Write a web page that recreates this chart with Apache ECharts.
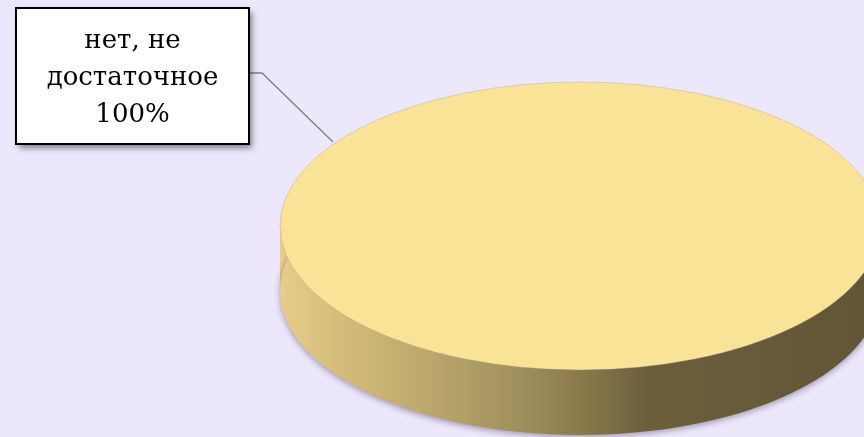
<!DOCTYPE html>
<html>
<head>
<meta charset="utf-8">
<script src="https://cdn.jsdelivr.net/npm/echarts@6/dist/echarts.min.js"></script>
<style>
html,body{margin:0;padding:0;background:#EDE7FB;}
#chart{width:864px;height:437px;}
</style>
</head>
<body>
<div id="chart"></div>
<script>
// ---- data ----
var categories = ['нет, не достаточное'];
var labelLines = [['нет, не', 'достаточное']];
var values = [100];

// ---- layout (not data) ----
var PIE = { cx: 580, cy: 226, rx: 300, ry: 144, depth: 65 };
var BOX = { x: 16, y: 8, w: 233, h: 136 };
var LEADER = [[249, 73], [262, 73], [333, 142]];

var total = values.reduce(function (a, b) { return a + b; }, 0);

var chart = echarts.init(document.getElementById('chart'));

function sideFill() {
  return new echarts.graphic.LinearGradient(0, 0, 1, 0, [
    { offset: 0, color: '#E6CE88' },
    { offset: 0.1, color: '#D4BD7A' },
    { offset: 0.25, color: '#BBA76C' },
    { offset: 0.4, color: '#A0905D' },
    { offset: 0.52, color: '#857648' },
    { offset: 0.61, color: '#6C5F3C' },
    { offset: 1, color: '#615534' }
  ], false);
}

chart.setOption({
  backgroundColor: '#EDE7FB',
  animation: false,
  series: [{
    type: 'custom',
    coordinateSystem: 'none',
    data: values.map(function (v, i) { return { name: categories[i], value: v }; }),
    renderItem: function (params, api) {
      var i = params.dataIndex;
      var v = api.value(0);
      var before = 0;
      for (var k = 0; k < i; k++) before += values[k];
      var start = -Math.PI / 2 + before / total * Math.PI * 2;
      var end = start + v / total * Math.PI * 2;
      var pct = Math.round(v / total * 100);
      var sy = PIE.ry / PIE.rx;
      var children = [];
      // side wall (front)
      children.push({
        type: 'group',
        children: [
          {
            type: 'rect',
            shape: { x: PIE.cx - PIE.rx, y: PIE.cy, width: PIE.rx * 2, height: PIE.depth },
            style: { fill: sideFill() }
          },
          {
            type: 'ellipse',
            shape: { cx: PIE.cx, cy: PIE.cy + PIE.depth, rx: PIE.rx, ry: PIE.ry },
            style: { fill: sideFill(), shadowBlur: 6, shadowColor: 'rgba(60,50,80,0.45)', shadowOffsetY: 2 }
          }
        ]
      });
      // top face (slice)
      children.push({
        type: 'sector',
        x: PIE.cx, y: PIE.cy, scaleY: sy,
        shape: { cx: 0, cy: 0, r0: 0, r: PIE.rx, startAngle: start, endAngle: end, clockwise: true },
        style: { fill: '#F9E396', stroke: 'rgba(150,140,150,0.5)', lineWidth: 0.8, strokeNoScale: true }
      });
      // leader line
      children.push({
        type: 'polyline',
        shape: { points: LEADER },
        style: { stroke: '#7F7F7F', lineWidth: 1.3, fill: null }
      });
      // label box shadow
      children.push({
        type: 'rect',
        shape: { x: BOX.x, y: BOX.y, width: BOX.w, height: BOX.h },
        style: { fill: '#FFFFFF',
          shadowBlur: 6, shadowOffsetX: 3, shadowOffsetY: 4, shadowColor: 'rgba(0,0,0,0.45)' }
      });
      // label box
      children.push({
        type: 'rect',
        shape: { x: BOX.x, y: BOX.y, width: BOX.w, height: BOX.h },
        style: { fill: '#FFFFFF', stroke: '#000000', lineWidth: 2 }
      });
      children.push({
        type: 'text',
        x: BOX.x + BOX.w / 2, y: BOX.y + BOX.h / 2 + 2,
        style: {
          text: labelLines[i].concat([pct + '%']).join('\n'),
          align: 'center', verticalAlign: 'middle',
          font: '26px "DejaVu Serif"', lineHeight: 37, fill: '#000000'
        }
      });
      return { type: 'group', children: children };
    }
  }]
});
</script>
</body>
</html>
